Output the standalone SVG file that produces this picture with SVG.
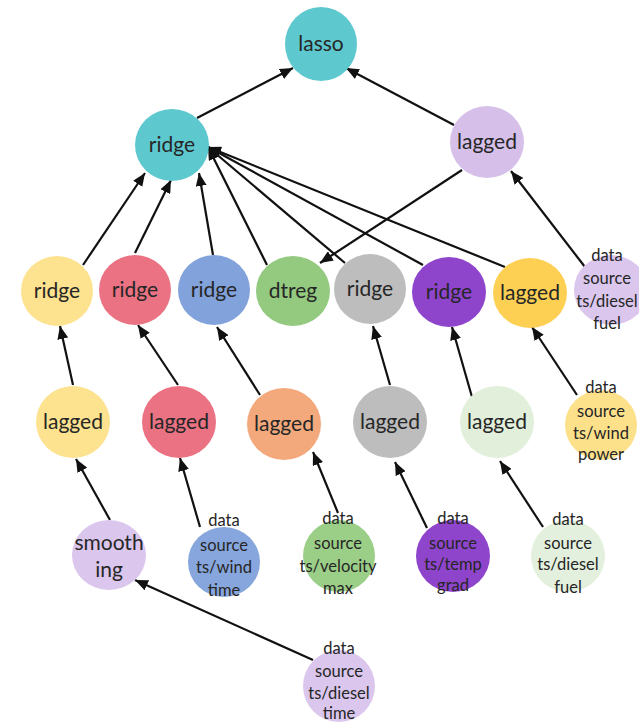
<svg xmlns="http://www.w3.org/2000/svg" width="639" height="723" viewBox="0 0 639 723">
  <style>
    .lbl { font-family: Lato, "Open Sans", "Liberation Sans", sans-serif; font-size: 21px; fill: #262626; text-anchor: middle; }
    .src { font-family: Lato, "Open Sans", "Liberation Sans", sans-serif; font-size: 16.5px; fill: #262626; text-anchor: middle; }
    .edge { stroke: #111; stroke-width: 2.2; fill: none; marker-end: url(#arrow); }
  </style>
  <defs>
    <marker id="arrow" viewBox="0 0 13 11" refX="13" refY="5.5" markerWidth="13" markerHeight="11" markerUnits="userSpaceOnUse" orient="auto">
      <path d="M0,0 L13,5.5 L0,11 z" fill="#111"/>
    </marker>
  </defs>
  <rect width="639" height="723" fill="#ffffff"/>

  <!-- connectors -->
  <g id="edges">
    <line class="edge" x1="197" y1="118" x2="293" y2="68"/>
    <line class="edge" x1="454" y1="125" x2="346" y2="68"/>
    <line class="edge" x1="83" y1="265" x2="145" y2="173"/>
    <line class="edge" x1="135" y1="253" x2="171" y2="180"/>
    <line class="edge" x1="213" y1="255" x2="199" y2="173"/>
    <line class="edge" x1="267" y1="265" x2="208" y2="147"/>
    <line class="edge" x1="345" y1="263" x2="208" y2="147"/>
    <line class="edge" x1="423" y1="265" x2="208" y2="147"/>
    <line class="edge" x1="505" y1="267" x2="208" y2="147"/>
    <line class="edge" x1="462" y1="170" x2="320" y2="263"/>
    <line class="edge" x1="585" y1="267" x2="511" y2="171"/>
    <line class="edge" x1="73" y1="385" x2="60" y2="326"/>
    <line class="edge" x1="178" y1="385" x2="138" y2="325"/>
    <line class="edge" x1="260" y1="395" x2="217" y2="327"/>
    <line class="edge" x1="390" y1="385" x2="373" y2="326"/>
    <line class="edge" x1="472" y1="397" x2="452" y2="327"/>
    <line class="edge" x1="577" y1="395" x2="532" y2="327"/>
    <line class="edge" x1="110" y1="520" x2="76" y2="459"/>
    <line class="edge" x1="200" y1="527" x2="180" y2="458"/>
    <line class="edge" x1="338" y1="513" x2="313" y2="452"/>
    <line class="edge" x1="427" y1="528" x2="395" y2="462"/>
    <line class="edge" x1="543" y1="527" x2="500" y2="461"/>
    <line class="edge" x1="313" y1="660" x2="135" y2="580"/>
  </g>

  <!-- top level -->
  <g id="lasso">
    <ellipse cx="321" cy="44" rx="36" ry="37" fill="#5ec8cf"/>
    <text class="lbl" x="321" y="51">lasso</text>
  </g>
  <g id="ridge-main">
    <ellipse cx="172" cy="145" rx="37" ry="36" fill="#5ec8cf"/>
    <text class="lbl" x="172" y="152">ridge</text>
  </g>
  <g id="lagged-main">
    <ellipse cx="487" cy="142" rx="37" ry="36" fill="#d6c0ea"/>
    <text class="lbl" x="487" y="149">lagged</text>
  </g>

  <!-- second level -->
  <g id="ridge-1">
    <ellipse cx="57" cy="291" rx="36" ry="35" fill="#fde28f"/>
    <text class="lbl" x="57" y="298">ridge</text>
  </g>
  <g id="ridge-2">
    <ellipse cx="135" cy="290" rx="36" ry="35" fill="#ea7282"/>
    <text class="lbl" x="135" y="297">ridge</text>
  </g>
  <g id="ridge-3">
    <ellipse cx="214" cy="290" rx="36" ry="35" fill="#82a2dc"/>
    <text class="lbl" x="214" y="297">ridge</text>
  </g>
  <g id="dtreg">
    <ellipse cx="293" cy="291" rx="37" ry="35" fill="#93ca80"/>
    <text class="lbl" x="293" y="298">dtreg</text>
  </g>
  <g id="ridge-4">
    <ellipse cx="370" cy="289" rx="36" ry="35" fill="#bdbdbd"/>
    <text class="lbl" x="370" y="296">ridge</text>
  </g>
  <g id="ridge-5">
    <ellipse cx="449" cy="292" rx="37" ry="35" fill="#8e45cc"/>
    <text class="lbl" x="449" y="299">ridge</text>
  </g>
  <g id="lagged-6">
    <ellipse cx="530" cy="293" rx="37" ry="35" fill="#fdd054"/>
    <text class="lbl" x="530" y="300">lagged</text>
  </g>
  <g id="src-diesel-fuel-a">
    <ellipse cx="611" cy="290" rx="37" ry="35" fill="#dbc6ed"/>
    <text class="src"><tspan x="607" y="261">data</tspan><tspan x="607" y="284">source</tspan><tspan x="607" y="307">ts/diesel</tspan><tspan x="607" y="329">fuel</tspan></text>
  </g>

  <!-- third level -->
  <g id="lagged-1">
    <ellipse cx="73" cy="422" rx="37" ry="36" fill="#fde28f"/>
    <text class="lbl" x="73" y="429">lagged</text>
  </g>
  <g id="lagged-2">
    <ellipse cx="179" cy="422" rx="37" ry="36" fill="#ea7282"/>
    <text class="lbl" x="179" y="429">lagged</text>
  </g>
  <g id="lagged-3">
    <ellipse cx="284" cy="424" rx="37" ry="36" fill="#f3a97c"/>
    <text class="lbl" x="284" y="431">lagged</text>
  </g>
  <g id="lagged-4">
    <ellipse cx="390" cy="422" rx="37" ry="36" fill="#bdbdbd"/>
    <text class="lbl" x="390" y="429">lagged</text>
  </g>
  <g id="lagged-5">
    <ellipse cx="497" cy="422" rx="37" ry="36" fill="#e2efda"/>
    <text class="lbl" x="497" y="429">lagged</text>
  </g>
  <g id="src-wind-power">
    <ellipse cx="601" cy="425" rx="36" ry="35" fill="#fde08a"/>
    <text class="src"><tspan x="601" y="393">data</tspan><tspan x="601" y="417">source</tspan><tspan x="601" y="439">ts/wind</tspan><tspan x="601" y="460">power</tspan></text>
  </g>

  <!-- fourth level -->
  <g id="smoothing">
    <ellipse cx="109" cy="555" rx="37" ry="35" fill="#dbc6ed"/>
    <text class="lbl"><tspan x="109" y="550">smooth</tspan><tspan x="109" y="577">ing</tspan></text>
  </g>
  <g id="src-wind-time">
    <ellipse cx="224" cy="562" rx="36" ry="35" fill="#86a6dd"/>
    <text class="src"><tspan x="224" y="526">data</tspan><tspan x="224" y="551">source</tspan><tspan x="224" y="573">ts/wind</tspan><tspan x="224" y="596">time</tspan></text>
  </g>
  <g id="src-velocity-max">
    <ellipse cx="339" cy="556" rx="36" ry="36" fill="#9bce86"/>
    <text class="src"><tspan x="338" y="524">data</tspan><tspan x="338" y="549">source</tspan><tspan x="338" y="572">ts/velocity</tspan><tspan x="338" y="594">max</tspan></text>
  </g>
  <g id="src-temp-grad">
    <ellipse cx="453" cy="556" rx="37" ry="36" fill="#8e45cc"/>
    <text class="src"><tspan x="453" y="524">data</tspan><tspan x="453" y="549">source</tspan><tspan x="453" y="570">ts/temp</tspan><tspan x="453" y="591">grad</tspan></text>
  </g>
  <g id="src-diesel-fuel-b">
    <ellipse cx="568" cy="556" rx="37" ry="36" fill="#e3f0dd"/>
    <text class="src"><tspan x="568" y="525">data</tspan><tspan x="568" y="549">source</tspan><tspan x="568" y="570">ts/diesel</tspan><tspan x="568" y="593">fuel</tspan></text>
  </g>

  <!-- bottom -->
  <g id="src-diesel-time">
    <ellipse cx="339" cy="686" rx="36" ry="36" fill="#dbc6ed"/>
    <text class="src"><tspan x="339" y="654">data</tspan><tspan x="339" y="677">source</tspan><tspan x="339" y="699">ts/diesel</tspan><tspan x="339" y="719">time</tspan></text>
  </g>
</svg>
